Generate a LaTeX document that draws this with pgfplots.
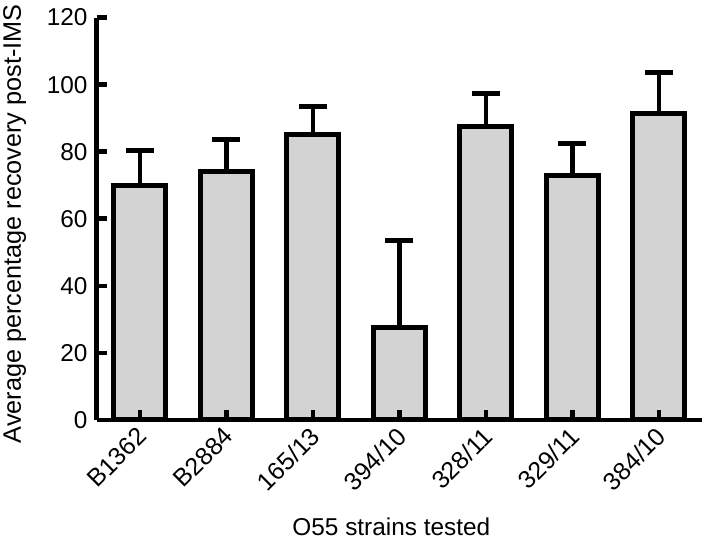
\documentclass[border=0pt]{standalone}
\usepackage{pgfplots}
\pgfplotsset{compat=1.18}
\usepackage{fontspec}
\setmainfont{Liberation Sans}
\definecolor{barfill}{HTML}{D3D3D3}
\begin{document}
\begin{tikzpicture}
\begin{axis}[
  name=ax,
  scale only axis, width=606.5bp, height=403bp,
  xmin=-0.5, xmax=6.5, ymin=0, ymax=120,
  set layers, axis on top,
  axis lines=left, axis line style={-, line width=4.5bp},
  tick align=inside, major tick length=10bp,
  tick style={line width=4.5bp, black},
  ytick={0,20,...,120},
  xtick=data,
  xticklabels={B1362,B2884,165/13,394/10,328/11,329/11,384/10},
  xticklabel style={xshift=-4bp, yshift=3bp, rotate=45, anchor=north east,
    inner sep=6bp, font=\fontsize{25}{29}\selectfont},
  yticklabel style={inner sep=9bp, font=\fontsize{24.5}{29}\selectfont},
  /pgf/number format/assume math mode=true,
  xlabel={O55 strains tested},
  ylabel={Average percentage recovery post-IMS},
  xlabel style={font=\fontsize{24.5}{29}\selectfont,
    at={(axis description cs:0.5,0)}, anchor=center,
    yshift=-107bp, xshift=-8bp},
  ylabel style={font=\fontsize{25.4}{29}\selectfont,
    at={(axis description cs:0,0.5)}, anchor=center,
    yshift=82bp, xshift=-5bp},
]
\addplot[ybar, bar width=52bp, fill=barfill, draw=black, line width=5bp,
  error bars/.cd, y dir=plus, y explicit,
  error bar style={line width=4.5bp, black},
  error mark options={rotate=90, line width=5bp, mark size=14bp, black}]
coordinates {
  (0,70) +- (0,10.3)
  (1,74) +- (0,9.5)
  (2,85) +- (0,8.4)
  (3,27.7) +- (0,25.7)
  (4,87.4) +- (0,10)
  (5,72.8) +- (0,9.6)
  (6,91.5) +- (0,12)
};
\end{axis}
\path (ax.south west) ++(-95.5bp,-121bp) rectangle ++(709bp,539bp);
\end{tikzpicture}
\end{document}
